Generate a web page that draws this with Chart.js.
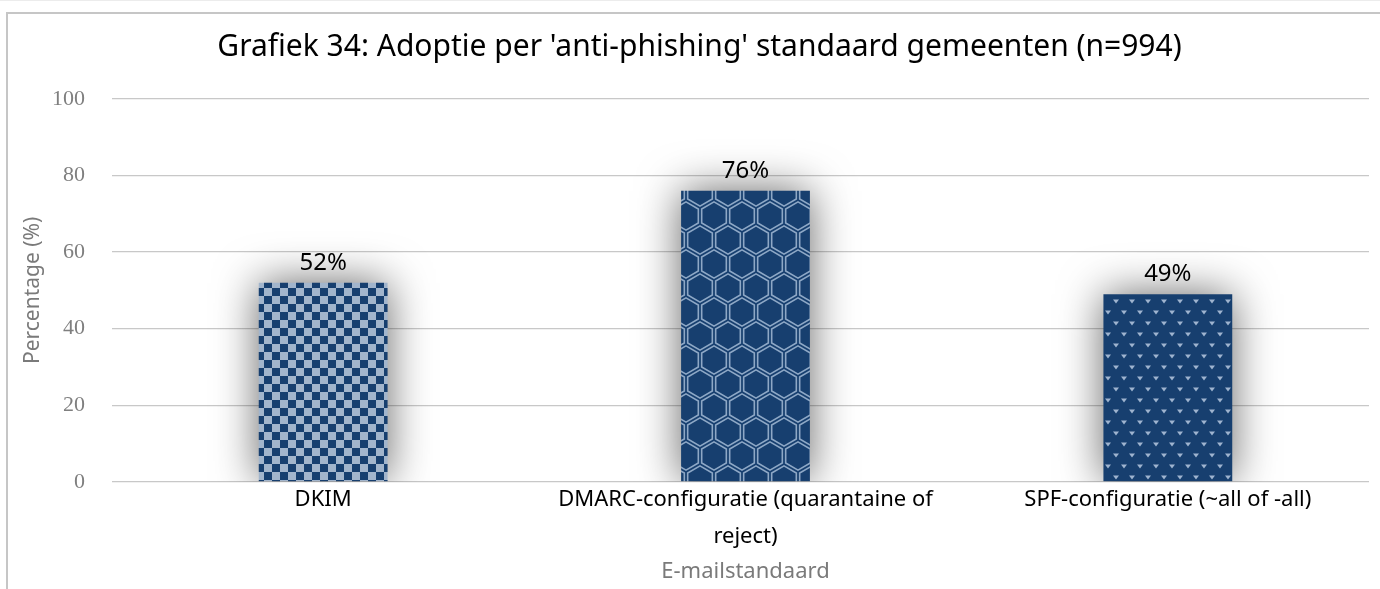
<!DOCTYPE html>
<html>
<head>
<meta charset="utf-8">
<script src="https://cdn.jsdelivr.net/npm/chart.js@4"></script>
<style>
  html, body { margin: 0; padding: 0; background: #fff; }
  body { width: 1380px; height: 589px; overflow: hidden; position: relative; }
  #topline { position: absolute; left: 0; top: 0; width: 1380px; height: 1px; background: #ececec; }
  #frame { position: absolute; left: 6px; top: 12px; width: 1374px; height: 577px;
           border-top: 2px solid #c6c6c6; border-left: 2px solid #c6c6c6; box-sizing: border-box; }
  #wrap { position: absolute; left: 0; top: 0; width: 1380px; height: 589px; }
</style>
</head>
<body>
<div id="topline"></div>
<div id="frame"></div>
<div id="wrap"><canvas id="bar-chart"></canvas></div>
<script>
var categories = ["DKIM", ["DMARC-configuratie (quarantaine of", "reject)"], "SPF-configuratie (~all of -all)"];
var adoption = [52, 76, 49];
var yTicks = [0, 20, 40, 60, 80, 100];

var dark = "#173f6f";
var light = "#a2b5cc";

function tile(w, h, draw) {
    var c = document.createElement("canvas");
    c.width = w; c.height = h;
    var g = c.getContext("2d");
    g.fillStyle = dark;
    g.fillRect(0, 0, w, h);
    draw(g);
    return c;
}

// small checkerboard
var checker = tile(16, 16, function (g) {
    g.fillStyle = light;
    g.fillRect(8, 0, 8, 8);
    g.fillRect(0, 8, 8, 8);
});

// honeycomb outline
var honey = tile(28, 48, function (g) {
    g.strokeStyle = "#8ea8c6";
    g.lineWidth = 1.6;
    var centers = [[0, 0], [28, 0], [0, 48], [28, 48], [14, 24]];
    centers.forEach(function (p) {
        var s = 0.88;
        var pts = [[0, -16], [14, -8], [14, 8], [0, 16], [-14, 8], [-14, -8]];
        g.beginPath();
        pts.forEach(function (v, i) {
            var x = p[0] + v[0] * s, y = p[1] + v[1] * s;
            if (i === 0) g.moveTo(x, y); else g.lineTo(x, y);
        });
        g.closePath();
        g.stroke();
    });
});

// little downward triangles
var triangles = tile(16, 22, function (g) {
    g.fillStyle = "#9fb4cf";
    [[4, 4], [12, 15]].forEach(function (p) {
        g.beginPath();
        g.moveTo(p[0] - 3, p[1] - 1.5);
        g.lineTo(p[0] + 3, p[1] - 1.5);
        g.lineTo(p[0], p[1] + 2.5);
        g.closePath();
        g.fill();
    });
});

var ctx0 = document.createElement("canvas").getContext("2d");
var fills = [checker, honey, triangles].map(function (t) { return ctx0.createPattern(t, "repeat"); });

var barShadow = {
    id: "barShadow",
    beforeDatasetDraw: function (chart) {
        var c = chart.ctx;
        c.save();
        c.shadowColor = "rgba(0,0,0,0.6)";
        c.shadowBlur = 44;
        c.shadowOffsetX = 0;
        c.shadowOffsetY = 0;
    },
    afterDatasetDraw: function (chart) {
        chart.ctx.restore();
    }
};

// gridlines stop a little short of the right edge
var gridTrim = {
    id: "gridTrim",
    afterDraw: function (chart) {
        var a = chart.chartArea;
        chart.ctx.clearRect(a.right - 10, a.top - 3, 12, a.bottom - a.top + 6);
    }
};

var valueLabels = {
    id: "valueLabels",
    afterDatasetsDraw: function (chart) {
        var c = chart.ctx;
        var meta = chart.getDatasetMeta(0);
        c.save();
        c.font = "24px 'Noto Sans'";
        c.fillStyle = "#000";
        c.textAlign = "center";
        c.textBaseline = "bottom";
        meta.data.forEach(function (bar, i) {
            c.fillText(adoption[i] + "%", bar.x, bar.y - 8);
        });
        c.restore();
    }
};

var x = document.getElementById("bar-chart");
var y = new Chart(x, {
    type: 'bar',
    data: {
        labels: categories,
        datasets: [{
            label: "Adoptie",
            data: adoption,
            backgroundColor: fills,
            borderWidth: 0,
            barPercentage: 0.61,
            categoryPercentage: 0.5
        }]
    },
    options: {
        responsive: true,
        maintainAspectRatio: false,
        animation: false,
        layout: { padding: { left: 20, right: 1, top: 29, bottom: 4 } },
        plugins: {
            legend: { display: false },
            tooltip: { enabled: false },
            title: {
                display: true,
                text: "Grafiek 34: Adoptie per 'anti-phishing' standaard gemeenten (n=994)",
                color: "#000",
                font: { family: "'Noto Sans'", size: 30, weight: "normal" },
                padding: { top: 0, bottom: 34 }
            }
        },
        scales: {
            x: {
                grid: { display: false },
                border: { display: false },
                ticks: {
                    color: "#000",
                    font: { family: "'Noto Sans'", size: 22, lineHeight: 1.7 },
                    padding: -9,
                    maxRotation: 0
                },
                title: {
                    display: true,
                    text: "E-mailstandaard",
                    color: "#7a7a7a",
                    font: { family: "'Noto Sans'", size: 22 },
                    padding: { top: 12, bottom: 0 }
                }
            },
            y: {
                min: 0,
                max: 100,
                afterBuildTicks: function (axis) {
                    axis.ticks = yTicks.map(function (v) { return { value: v }; });
                },
                afterFit: function (axis) {
                    axis.width = 92;
                },
                grid: { color: "#c8c8c8", lineWidth: 1.3, drawTicks: false },
                border: { display: false },
                ticks: {
                    color: "#7f7f7f",
                    font: { family: "'Liberation Serif'", size: 22 },
                    padding: 27
                },
                title: {
                    display: true,
                    text: "Percentage (%)",
                    color: "#7a7a7a",
                    font: { family: "'Noto Sans'", size: 21 },
                    padding: { top: 0, bottom: 2 }
                }
            }
        }
    },
    plugins: [barShadow, valueLabels, gridTrim]
});
</script>
</body>
</html>
